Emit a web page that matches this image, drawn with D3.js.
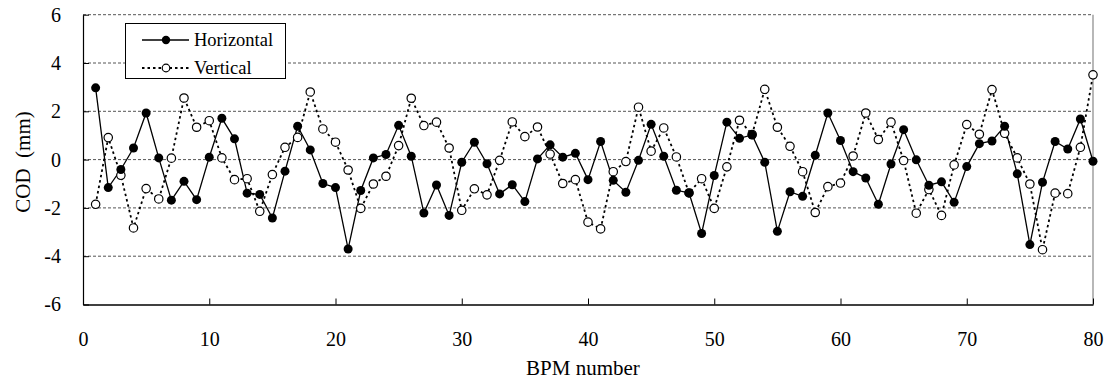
<!DOCTYPE html>
<html>
<head>
<meta charset="utf-8">
<script src="https://cdn.jsdelivr.net/npm/d3@7"></script>
<style>
  body { margin: 0; background: #fff; }
</style>
</head>
<body>
<svg id="chart" width="1106" height="379"></svg>
<script>
const serif = '"Liberation Serif", "Times New Roman", Times, "DejaVu Serif", serif'
// BPM numbers 1..80
const bpm = d3.range(1, 81)
// COD values (mm)
const horizontal = [2.97, -1.16, -0.41, 0.48, 1.93, 0.07, -1.68, -0.90, -1.66, 0.10,
  1.71, 0.86, -1.39, -1.44, -2.42, -0.48, 1.38, 0.40, -0.99, -1.16,
  -3.70, -1.28, 0.07, 0.21, 1.42, 0.14, -2.21, -1.05, -2.31, -0.11,
  0.72, -0.17, -1.42, -1.04, -1.74, 0.03, 0.61, 0.10, 0.26, -0.83,
  0.75, -0.86, -1.35, -0.03, 1.46, 0.14, -1.27, -1.38, -3.06, -0.66,
  1.55, 0.88, 1.02, -0.11, -2.97, -1.33, -1.52, 0.18, 1.93, 0.79,
  -0.50, -0.76, -1.85, -0.18, 1.24, -0.01, -1.06, -0.92, -1.77, -0.29,
  0.66, 0.77, 1.38, -0.59, -3.52, -0.94, 0.75, 0.44, 1.68, -0.07]
const vertical = [-1.85, 0.91, -0.65, -2.83, -1.20, -1.63, 0.06, 2.55, 1.34, 1.61,
  0.07, -0.83, -0.79, -2.14, -0.62, 0.51, 0.92, 2.80, 1.27, 0.72,
  -0.43, -2.02, -1.01, -0.69, 0.58, 2.54, 1.41, 1.55, 0.48, -2.10,
  -1.21, -1.46, -0.03, 1.56, 0.95, 1.35, 0.23, -0.99, -0.83, -2.59,
  -2.87, -0.50, -0.08, 2.17, 0.35, 1.31, 0.11, -1.38, -0.79, -2.02,
  -0.30, 1.63, 1.04, 2.91, 1.34, 0.55, -0.50, -2.19, -1.12, -0.97,
  0.15, 1.93, 0.83, 1.55, -0.04, -2.22, -1.24, -2.31, -0.22, 1.45,
  1.05, 2.90, 1.09, 0.07, -1.01, -3.73, -1.39, -1.41, 0.51, 3.51]
const xTicks = [0, 10, 20, 30, 40, 50, 60, 70, 80]
const yTicks = [-6, -4, -2, 0, 2, 4, 6]
const gridValues = [-4, -2, 0, 2, 4, 6]
const seriesNames = ['Horizontal', 'Vertical']

const svg = d3.select('#chart')

const xScale = d3.scaleLinear().domain([0, 80]).range([83, 1093])
const yScale = d3.scaleLinear().domain([-6, 6]).range([304.5, 14.7])

// gridlines
svg.append('g').selectAll('line')
  .data(gridValues)
  .enter()
  .append('line')
  .attr('x1', xScale(0)).attr('x2', xScale(80))
  .attr('y1', d => yScale(d)).attr('y2', d => yScale(d))
  .attr('stroke', '#555').attr('stroke-width', 1)
  .attr('stroke-dasharray', '3,2')

// right border
svg.append('line')
  .attr('x1', xScale(80)).attr('x2', xScale(80))
  .attr('y1', yScale(6)).attr('y2', yScale(-6))
  .attr('stroke', '#888').attr('stroke-width', 1.2)

// axes (plain hyphen for negatives, like the original)
const xAxis = d3.axisBottom(xScale).tickValues(xTicks).tickFormat(d => String(d))
  .tickSizeInner(-6).tickSizeOuter(0).tickPadding(27)
const yAxis = d3.axisLeft(yScale).tickValues(yTicks).tickFormat(d => String(d))
  .tickSizeInner(-6).tickSizeOuter(0).tickPadding(22)

const xAxisGroup = svg.append('g').attr('transform', `translate(0, ${yScale(-6)})`).call(xAxis)
const yAxisGroup = svg.append('g').attr('transform', `translate(${xScale(0)}, 0)`).call(yAxis)
xAxisGroup.select('.domain').attr('stroke', '#000').attr('stroke-width', 1.6)
yAxisGroup.select('.domain').attr('stroke', '#000').attr('stroke-width', 1.2)
svg.selectAll('g text').style('font-family', serif).style('font-size', '20px').attr('fill', '#000')

// axis titles
svg.append('text')
  .attr('x', 583).attr('y', 375)
  .attr('text-anchor', 'middle')
  .style('font-family', serif).style('font-size', '21px')
  .text('BPM number')
svg.append('text')
  .attr('transform', 'translate(30, 162) rotate(-90)')
  .attr('text-anchor', 'middle')
  .style('font-family', serif).style('font-size', '21px')
  .style('white-space', 'pre')
  .text('COD  (mm)')

// lines
const line = d3.line().x((d, i) => xScale(bpm[i])).y(d => yScale(d))

svg.append('path').datum(vertical)
  .attr('fill', 'none').attr('stroke', '#000').attr('stroke-width', 1.8)
  .attr('stroke-dasharray', '2.5,3')
  .attr('d', line)
svg.append('path').datum(horizontal)
  .attr('fill', 'none').attr('stroke', '#000').attr('stroke-width', 1.3)
  .attr('d', line)

// markers
svg.append('g').selectAll('circle')
  .data(vertical)
  .enter()
  .append('circle')
  .attr('cx', (d, i) => xScale(bpm[i]))
  .attr('cy', d => yScale(d))
  .attr('r', 4.2)
  .attr('fill', '#fff').attr('stroke', '#000').attr('stroke-width', 1.2)
svg.append('g').selectAll('circle')
  .data(horizontal)
  .enter()
  .append('circle')
  .attr('cx', (d, i) => xScale(bpm[i]))
  .attr('cy', d => yScale(d))
  .attr('r', 4.5)
  .attr('fill', '#000')

// legend
const legend = svg.append('g')
legend.append('rect')
  .attr('x', 125.5).attr('y', 23.5).attr('width', 160).attr('height', 55)
  .attr('fill', '#fff').attr('stroke', '#000').attr('stroke-width', 1)
seriesNames.forEach((name, i) => {
  const y = 40 + i * 28
  legend.append('line')
    .attr('x1', 142).attr('x2', 189).attr('y1', y).attr('y2', y)
    .attr('stroke', '#000')
    .attr('stroke-width', i == 0 ? 1.3 : 1.8)
    .attr('stroke-dasharray', i == 0 ? null : '2.5,3')
  legend.append('circle')
    .attr('cx', 166).attr('cy', y)
    .attr('r', i == 0 ? 4.2 : 3.8)
    .attr('fill', i == 0 ? '#000' : '#fff')
    .attr('stroke', '#000').attr('stroke-width', i == 0 ? 0 : 1.2)
  legend.append('text')
    .attr('x', 194).attr('y', y + 6)
    .style('font-family', serif).style('font-size', '18.5px')
    .text(name)
})
</script>
</body>
</html>
